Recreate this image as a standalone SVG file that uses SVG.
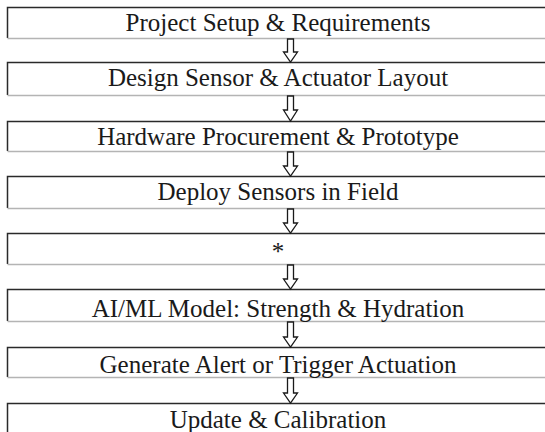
<svg xmlns="http://www.w3.org/2000/svg" width="545" height="432" viewBox="0 0 545 432">
<defs>
<style>
.top{stroke:#2a2a2a;stroke-width:1.5;fill:none}
.bot{stroke:#b4b4b4;stroke-width:1.5;fill:none}
.lbl{font-size:25px;fill:#1a1a1a;text-anchor:middle}
.arr{fill:#fff;stroke:#1a1a1a;stroke-width:1.3;stroke-linejoin:miter}
</style>
</defs>
<rect width="545" height="432" fill="#fff"/>
<g font-family="'Liberation Serif', 'DejaVu Serif', serif">
<g id="n1"><path class="top" d="M546 7.5H7.5V38"/><path class="bot" d="M7.5 38.5H546"/><text class="lbl" x="278" y="31">Project Setup &amp; Requirements</text></g>
<g id="n2"><path class="top" d="M546 62.5H7.5V95"/><path class="bot" d="M7.5 95.5H546"/><text class="lbl" x="278" y="86">Design Sensor &amp; Actuator Layout</text></g>
<g id="n3"><path class="top" d="M546 121.5H7.5V151"/><path class="bot" d="M7.5 151.5H546"/><text class="lbl" x="278" y="145">Hardware Procurement &amp; Prototype</text></g>
<g id="n4"><path class="top" d="M546 176.5H7.5V208"/><path class="bot" d="M7.5 208.5H546"/><text class="lbl" x="278" y="200">Deploy Sensors in Field</text></g>
<g id="n5"><path class="top" d="M546 233.5H7.5V264"/><path class="bot" d="M7.5 264.5H546"/><text class="lbl" x="278" y="260">*</text></g>
<g id="n6"><path class="top" d="M546 289.5H7.5V321"/><path class="bot" d="M7.5 321.5H546"/><text class="lbl" x="278" y="317">AI/ML Model: Strength &amp; Hydration</text></g>
<g id="n7"><path class="top" d="M546 347.5H7.5V377"/><path class="bot" d="M7.5 377.5H546"/><text class="lbl" x="278" y="373">Generate Alert or Trigger Actuation</text></g>
<g id="n8"><path class="top" d="M546 403.5H7.5V433"/><text class="lbl" x="278" y="428">Update &amp; Calibration</text></g>
</g>
<g id="connectors">
<path class="arr" d="M287.5 39V52H283.5L290.5 62L297.5 52H293.5V39Z"/>
<path class="arr" d="M287.5 96V110H283.5L290.5 121L297.5 110H293.5V96Z"/>
<path class="arr" d="M287.5 152V166H283.5L290.5 176L297.5 166H293.5V152Z"/>
<path class="arr" d="M287.5 209V223H283.5L290.5 233L297.5 223H293.5V209Z"/>
<path class="arr" d="M287.5 265V279H283.5L290.5 289L297.5 279H293.5V265Z"/>
<path class="arr" d="M287.5 322V337H283.5L290.5 347L297.5 337H293.5V322Z"/>
<path class="arr" d="M287.5 378V393H283.5L290.5 403L297.5 393H293.5V378Z"/>
</g>
</svg>
